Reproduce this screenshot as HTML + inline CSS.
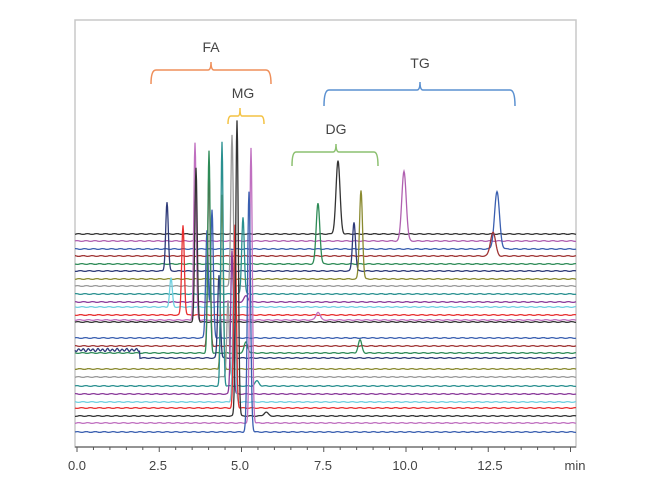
<!DOCTYPE html><html><head><style>body{margin:0;background:#fff}svg{display:block}text{font-family:"Liberation Sans",sans-serif;fill:#444}</style></head><body>
<svg id="s" width="645" height="496" xmlns="http://www.w3.org/2000/svg">
<rect x="75" y="20" width="501" height="427" fill="none" stroke="#c8c8c8" stroke-width="1.5"/>
<line x1="75" y1="447" x2="576" y2="447" stroke="#666" stroke-width="1.2"/>
<g id="ticks"></g>
<g font-size="13"><text x="77" y="470" text-anchor="middle">0.0</text><text x="158" y="470" text-anchor="middle">2.5</text><text x="240" y="470" text-anchor="middle">5.0</text><text x="323" y="470" text-anchor="middle">7.5</text><text x="405" y="470" text-anchor="middle">10.0</text><text x="490" y="470" text-anchor="middle">12.5</text><text x="575" y="470" text-anchor="middle">min</text></g>
<g fill="none" stroke-width="1.5">
<path d="M151 84 Q151 70 156 70 H208 Q211 70 211 62 Q211 70 214 70 H266 Q271 70 271 84" stroke="#ef8f5a"/>
<path d="M228 124 Q228 116 231 116 H238 Q240 116 240 108 Q240 116 242 116 H261 Q264 116 264 124" stroke="#f4c243"/>
<path d="M292 166 Q292 152 296 152 H333 Q336 152 336 144 Q336 152 339 152 H374 Q378 152 378 166" stroke="#8cc070"/>
<path d="M324 106 Q324 90 329 90 H417 Q420 90 420 82 Q420 90 423 90 H510 Q515 90 515 106" stroke="#5a90d0"/>
</g>
<g font-size="14"><text x="211" y="52" text-anchor="middle">FA</text><text x="243" y="98" text-anchor="middle">MG</text><text x="336" y="134" text-anchor="middle">DG</text><text x="420" y="68" text-anchor="middle">TG</text></g>
<g id="tr" fill="none" stroke-width="1.3"></g>
</svg>
<script>
var T=[
[234,"#333",[[338,161,2]]],
[241,"#b060b0",[[404,171,2.2]]],
[249,"#3a5fb0",[[497,192,2.5]]],
[256,"#a03535",[[493,232,2.5]]],
[264,"#2e8b57",[[318,203,1.8]]],
[271,"#2e3a78",[[167,202,1.3],[354,222,1.5]]],
[279,"#8a8a30",[[361,190,1.5]]],
[286,"#999",[[232,135,1.2]]],
[294,"#2a9090",[[243,217,1.3]]],
[302,"#8a3a9a",[[246,296,2]]],
[307,"#70d0e0",[[171,278,1.3]]],
[315,"#e83030",[[183,225,1.3]]],
[320,"#c070c0",[[195,143,1.2],[318,312,2]]],
[322,"#333",[[196,168,1.2]]],
[338,"#3a5fb0",[[207,230,1.3],[212,210,1.3]]],
[346,"#a03535",[[209,168,1.2]]],
[353,"#2e8b57",[[209,151,1.2],[246,342,1.8],[360,340,1.8]]],
[358,"#2e3a78",[[219,275,1.3]]],
[369,"#8a8a30",[[222,195,1.2]]],
[377,"#999",[[228,300,1.2]]],
[386,"#2a9090",[[222,142,1.2],[257,381,2]]],
[394,"#8a3a9a",[[232,250,1.3]]],
[402,"#70d0e0",[[234,270,1.3]]],
[408,"#e83030",[[235,225,1.3]]],
[416,"#333",[[237,120,1.3],[266,412,2]]],
[423,"#c070c0",[[251,148,1.3]]],
[432,"#3a5fb0",[[249,192,1.5]]]];
var g=document.getElementById("tr"),h="";
T.forEach(function(t,i){var d="";for(var x=75;x<=576;x+=0.5){var y=t[0]+Math.sin(x*0.7+i)*0.4;
if(i==17&&x<140)y-=8+Math.sin(x*1.3)*1.2;
t[2].forEach(function(p){var s=p[2];y-=(t[0]-p[1])*Math.exp(-(x-p[0])*(x-p[0])/(2*s*s));});
d+=(x==75?"M":"L")+x+" "+y.toFixed(1);}
h+='<path d="'+d+'" stroke="'+t[1]+'"/>';});
g.innerHTML=h;
var k="";for(var m=0;m<=15;m+=0.5){var x=77+m*32.9;if(x>577)break;k+='<line x1="'+x+'" y1="447" x2="'+x+'" y2="'+(m%2.5==0?452:450)+'" stroke="#555"/>';}
document.getElementById("ticks").innerHTML=k;
</script></body></html>
